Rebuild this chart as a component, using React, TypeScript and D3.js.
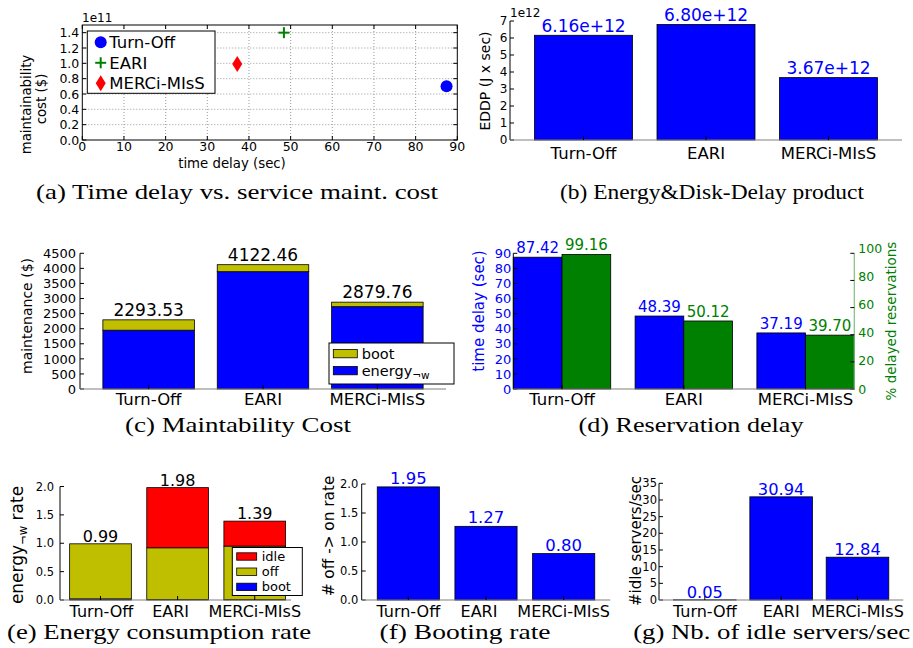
import React from "react";
import * as d3 from "d3";

// ---------------- data ----------------
const methods = ["Turn-Off", "EARI", "MERCi-MIsS"];

// (a) time delay (sec) vs maintainability cost (x 1e11 $)
const scatterDelay = [87.42, 48.39, 37.19];
const scatterCost = [0.7, 1.4, 0.99];
const aXTicks = [0, 10, 20, 30, 40, 50, 60, 70, 80, 90];
const aYTicks = [0, 0.2, 0.4, 0.6, 0.8, 1.0, 1.2, 1.4];

// (b) EDDP (x 1e12 J x sec)
const eddp = [6.16, 6.8, 3.67];
const bYTicks = [0, 1, 2, 3, 4, 5, 6, 7];

// (c) maintenance cost ($)
const maintEnergy = [1950, 3890, 2730];
const maintBoot = [343.53, 232.46, 149.76];
const cYTicks = [0, 500, 1000, 1500, 2000, 2500, 3000, 3500, 4000, 4500];

// (d) reservation delay
const resDelay = [87.42, 48.39, 37.19];
const resPct = [99.16, 50.12, 39.7];
const dYTicksL = [0, 10, 20, 30, 40, 50, 60, 70, 80, 90];
const dYTicksR = [0, 20, 40, 60, 80, 100];

// (e) energy consumption rate
const rateBoot = [0.02, 0.01, 0.01];
const rateOff = [0.97, 0.91, 0.94];
const rateIdle = [0.0, 1.06, 0.44];
const eYTicks = [0, 0.5, 1.0, 1.5, 2.0];

// (f) booting rate
const bootRate = [1.95, 1.27, 0.8];
const fYTicks = [0, 0.5, 1.0, 1.5, 2.0];

// (g) idle servers / sec
const idleServers = [0.05, 30.94, 12.84];
const gYTicks = [0, 5, 10, 15, 20, 25, 30, 35];

// ---------------- style ----------------
const BLUE = "#0000ff";
const GREEN = "#008000";
const RED = "#ff0000";
const OLIVE = "#bfbf00";
const SANS = "'DejaVu Sans', 'Bitstream Vera Sans', sans-serif";
const SERIF = "'Liberation Serif', 'DejaVu Serif', serif";

const fmt1 = d3.format(".1f");
const fmt2 = d3.format(".2f");
const fmtD = d3.format("d");
const positions = methods.map((_, i) => i);

function Caption({ x, y, w, text }: any) {
  return (
    <text x={x} y={y} textAnchor="middle" fontFamily={SERIF} fontSize={21} textLength={w} lengthAdjust="spacingAndGlyphs">
      {text}
    </text>
  );
}

function VLabel({ x, y, fs, color = "#000", children }: any) {
  return (
    <text transform={`translate(${x + 0.35 * fs},${y}) rotate(-90)`} textAnchor="middle" fontSize={fs} fill={color}>
      {children}
    </text>
  );
}

function YAxisLeft({ y, x0, ticks, fmt, fs, gap, color = "#000", tick = 4 }: any) {
  const [b, t] = y.range();
  return (
    <g>
      <line x1={x0} x2={x0} y1={b} y2={t} stroke="#000" strokeWidth={1} />
      {ticks.map((v: number) => (
        <g key={v}>
          <line x1={x0} x2={x0 + tick} y1={y(v)} y2={y(v)} stroke="#000" />
          <text x={x0 - gap} y={y(v)} dy="0.36em" textAnchor="end" fontSize={fs} fill={color}>
            {fmt(v)}
          </text>
        </g>
      ))}
    </g>
  );
}

function XCats({ x, pos, y0, base, fs, dxs }: any) {
  const [x0, x1] = x.range();
  return (
    <g>
      <line x1={x0} x2={x1} y1={y0} y2={y0} stroke="#808080" strokeWidth={1.2} />
      {pos.map((p: number, i: number) => (
        <g key={i}>
          <line x1={x(p)} x2={x(p)} y1={y0} y2={y0 - 4} stroke="#000" />
          <text x={x(p) + (dxs ? dxs[i] : 0)} y={base} textAnchor="middle" fontSize={fs}>
            {methods[i]}
          </text>
        </g>
      ))}
    </g>
  );
}

function Marker({ kind, cx, cy, color }: any) {
  if (kind === 0) return <circle cx={cx} cy={cy} r={6} fill={color} />;
  if (kind === 1)
    return (
      <g stroke={color} strokeWidth={2}>
        <line x1={cx - 5.5} x2={cx + 5.5} y1={cy} y2={cy} />
        <line x1={cx} x2={cx} y1={cy - 5.5} y2={cy + 5.5} />
      </g>
    );
  return <path d={`M${cx},${cy - 8}L${cx + 5},${cy}L${cx},${cy + 8}L${cx - 5},${cy}Z`} fill={color} />;
}

const markerColors = [BLUE, GREEN, RED];

// ---------------- panels ----------------
function PanelA() {
  const x = d3.scaleLinear().domain([0, 90]).range([82.3, 457.3]);
  const y = d3.scaleLinear().domain([0, 1.5]).range([140, 25]);
  const [x0, x1] = x.range();
  const [y0, y1] = y.range();
  return (
    <g>
      {aXTicks.slice(1, -1).map((t) => (
        <line key={"gx" + t} x1={x(t)} x2={x(t)} y1={y0} y2={y1} stroke="#999" strokeDasharray="1,2" />
      ))}
      {aYTicks.slice(1).map((t) => (
        <line key={"gy" + t} x1={x0} x2={x1} y1={y(t)} y2={y(t)} stroke="#999" strokeDasharray="1,2" />
      ))}
      <rect x={x0} y={y1} width={x1 - x0} height={y0 - y1} fill="none" stroke="#000" />
      {aXTicks.map((t) => (
        <g key={"tx" + t}>
          <line x1={x(t)} x2={x(t)} y1={y0} y2={y0 - 4} stroke="#000" />
          <line x1={x(t)} x2={x(t)} y1={y1} y2={y1 + 4} stroke="#000" />
          <text x={x(t)} y={150.7} textAnchor="middle" fontSize={12.5}>
            {t}
          </text>
        </g>
      ))}
      {aYTicks.map((t) => (
        <g key={"ty" + t}>
          <line x1={x0} x2={x0 + 4} y1={y(t)} y2={y(t)} stroke="#000" />
          <line x1={x1} x2={x1 - 4} y1={y(t)} y2={y(t)} stroke="#000" />
          <text x={x0 - 3} y={y(t)} dy="0.36em" textAnchor="end" fontSize={12.5}>
            {fmt1(t)}
          </text>
        </g>
      ))}
      {scatterDelay.map((d, i) => (
        <Marker key={"m" + i} kind={i} cx={x(d)} cy={y(scatterCost[i])} color={markerColors[i]} />
      ))}
      <text x={82} y={21.5} fontSize={12}>
        1e11
      </text>
      {/* legend */}
      <rect x={87.3} y={31} width={127.7} height={62.3} fill="#fff" stroke="#000" />
      {methods.map((m, i) => (
        <g key={"lg" + i}>
          <Marker kind={i} cx={100.7} cy={42.3 + i * 20.5} color={markerColors[i]} />
          <text x={109.3} y={42.3 + i * 20.5 + 6} fontSize={16.5}>
            {m}
          </text>
        </g>
      ))}
      <text transform="translate(31,104.5) rotate(-90)" textAnchor="middle" fontSize={13.3}>
        maintainability
      </text>
      <text transform="translate(46,99) rotate(-90)" textAnchor="middle" fontSize={13.3}>
        cost ($)
      </text>
      <text x={232} y={168} textAnchor="middle" fontSize={13.3}>
        time delay (sec)
      </text>
      <Caption x={237} y={199} w={402} text="(a) Time delay vs. service maint. cost" />
    </g>
  );
}

function PanelB() {
  const x = d3.scaleLinear().domain([-0.6, 2.6]).range([510, 902]);
  const y = d3.scaleLinear().domain([0, 7]).range([140, 21]);
  const w = x(0.8) - x(0);
  return (
    <g>
      {eddp.map((v, i) => (
        <rect key={i} x={x(i - 0.4)} y={y(v)} width={w} height={y(0) - y(v)} fill={BLUE} stroke="#000" strokeWidth={0.8} />
      ))}
      {eddp.map((v, i) => (
        <text key={"v" + i} x={x(i)} y={y(v) - 3.5} textAnchor="middle" fontSize={17} fill={BLUE}>
          {fmt2(v) + "e+12"}
        </text>
      ))}
      <YAxisLeft y={y} x0={510} ticks={bYTicks} fmt={fmtD} fs={12} gap={2.5} />
      <XCats x={x} pos={positions} y0={140} base={158.5} fs={16.5} />
      <text x={510} y={16.7} fontSize={12}>
        1e12
      </text>
      <VLabel x={485} y={81} fs={14}>
        EDDP (J x sec)
      </VLabel>
      <Caption x={712} y={199} w={304} text="(b) Energy&Disk-Delay product" />
    </g>
  );
}

function PanelC() {
  const x = d3.scaleLinear().domain([-0.6, 2.6]).range([80, 446]);
  const y = d3.scaleLinear().domain([0, 4500]).range([389, 253.3]);
  const w = x(0.8) - x(0);
  return (
    <g>
      {maintEnergy.map((v, i) => (
        <g key={i}>
          <rect x={x(i - 0.4)} y={y(v)} width={w} height={y(0) - y(v)} fill={BLUE} stroke="#000" strokeWidth={0.8} />
          <rect
            x={x(i - 0.4)}
            y={y(v + maintBoot[i])}
            width={w}
            height={y(v) - y(v + maintBoot[i])}
            fill={OLIVE}
            stroke="#000"
            strokeWidth={0.8}
          />
          <text x={x(i)} y={y(v + maintBoot[i]) - 4} textAnchor="middle" fontSize={17}>
            {fmt2(v + maintBoot[i])}
          </text>
        </g>
      ))}
      <YAxisLeft y={y} x0={80} ticks={cYTicks} fmt={fmtD} fs={13} gap={4} />
      <XCats x={x} pos={positions} y0={389} base={405} fs={16.5} />
      <VLabel x={26.7} y={316} fs={14}>
        maintenance ($)
      </VLabel>
      {/* legend */}
      <rect x={329} y={343} width={125} height={41} fill="#fff" stroke="#000" />
      <rect x={333.3} y={349.5} width={24} height={8.3} fill={OLIVE} stroke="#000" strokeWidth={0.8} />
      <rect x={333.3} y={366.5} width={24} height={8.3} fill={BLUE} stroke="#000" strokeWidth={0.8} />
      <text x={361.7} y={359} fontSize={14.5}>
        boot
      </text>
      <text x={361.7} y={376} fontSize={14.5}>
        energy
        <tspan fontSize={10.5} dy={2.5}>
          ¬w
        </tspan>
      </text>
      <Caption x={238} y={432} w={226} text="(c) Maintability Cost" />
    </g>
  );
}

function PanelD() {
  const x = d3.scaleLinear().domain([0, 2.8]).range([513.3, 854.3]);
  const yL = d3.scaleLinear().domain([0, 90]).range([389, 253.3]);
  const yR = d3.scaleLinear().domain([0, 100]).range([389, 253.3]);
  const w = x(0.4) - x(0);
  const xr = x.range()[1];
  return (
    <g>
      {resDelay.map((v, i) => (
        <g key={i}>
          <rect x={x(i)} y={yL(v)} width={w} height={yL(0) - yL(v)} fill={BLUE} stroke="#000" strokeWidth={0.8} />
          <rect x={x(i + 0.4)} y={yR(resPct[i])} width={w} height={yR(0) - yR(resPct[i])} fill={GREEN} stroke="#000" strokeWidth={0.8} />
          <text x={x(i + 0.2)} y={yL(v) - 4} textAnchor="middle" fontSize={15} fill={BLUE}>
            {fmt2(v)}
          </text>
          <text x={x(i + 0.6)} y={yR(resPct[i]) - 4} textAnchor="middle" fontSize={15} fill={GREEN}>
            {fmt2(resPct[i])}
          </text>
        </g>
      ))}
      <YAxisLeft y={yL} x0={513.3} ticks={dYTicksL} fmt={fmtD} fs={13} gap={2} color={BLUE} />
      <line x1={xr} x2={xr} y1={389} y2={253.3} stroke="#7fbf7f" strokeWidth={1.2} />
      {dYTicksR.map((t) => (
        <g key={"r" + t}>
          <line x1={xr} x2={xr - 4} y1={yR(t)} y2={yR(t)} stroke="#000" />
          <text x={xr + 4} y={yR(t) - t * 0.045} dy="0.36em" fontSize={12.5} fill={GREEN}>
            {t}
          </text>
        </g>
      ))}
      <XCats x={x} pos={positions.map((p) => p + 0.4)} y0={389} base={405} fs={16.5} />
      <VLabel x={478.3} y={311} fs={15} color={BLUE}>
        time delay (sec)
      </VLabel>
      <VLabel x={891} y={321} fs={13.5} color={GREEN}>
        % delayed reservations
      </VLabel>
      <Caption x={691} y={432} w={225} text="(d) Reservation delay" />
    </g>
  );
}

function PanelE() {
  const x = d3.scaleLinear().domain([-0.525, 2.47]).range([60, 291]);
  const y = d3.scaleLinear().domain([0, 2]).range([600, 486.5]);
  const w = x(0.8) - x(0);
  const layers = [
    { vals: rateBoot, color: BLUE, name: "boot" },
    { vals: rateOff, color: OLIVE, name: "off" },
    { vals: rateIdle, color: RED, name: "idle" },
  ];
  return (
    <g>
      {positions.map((i) => {
        let acc = 0;
        const rects = layers.map((L, k) => {
          const lo = acc;
          acc += L.vals[i];
          return (
            <rect
              key={k}
              x={x(i - 0.4)}
              y={y(acc)}
              width={w}
              height={y(lo) - y(acc)}
              fill={L.color}
              stroke="#000"
              strokeWidth={0.8}
            />
          );
        });
        return (
          <g key={i}>
            {rects}
            <text x={x(i)} y={y(acc) - 2} textAnchor="middle" fontSize={16}>
              {fmt2(acc)}
            </text>
          </g>
        );
      })}
      <YAxisLeft y={y} x0={60} ticks={eYTicks} fmt={fmt1} fs={11.5} gap={6} />
      <XCats x={x} pos={positions} y0={600} base={616.7} fs={16} dxs={[1, -7, 0]} />
      <text transform={`translate(${17 + 0.35 * 17},545) rotate(-90)`} textAnchor="middle" fontSize={17}>
        energy
        <tspan fontSize={11.5} dy={4}>
          ¬w
        </tspan>
        <tspan dy={-4}> rate</tspan>
      </text>
      {/* legend */}
      <rect x={232.3} y={547.5} width={70} height={48} fill="#fff" stroke="#000" />
      {layers
        .slice()
        .reverse()
        .map((L, k) => (
          <g key={"lg" + k}>
            <rect x={236.7} y={552.8 + k * 15.2} width={20} height={7.4} fill={L.color} stroke="#000" strokeWidth={0.8} />
            <text x={261.7} y={560.8 + k * 15.2} fontSize={13}>
              {L.name}
            </text>
          </g>
        ))}
      <Caption x={159} y={639} w={304} text="(e) Energy consumption rate" />
    </g>
  );
}

function PanelF() {
  const x = d3.scaleLinear().domain([-0.6, 2.6]).range([361.7, 610.3]);
  const y = d3.scaleLinear().domain([0, 2]).range([600, 484]);
  const w = x(0.8) - x(0);
  return (
    <g>
      {bootRate.map((v, i) => (
        <g key={i}>
          <rect x={x(i - 0.4)} y={y(v)} width={w} height={y(0) - y(v)} fill={BLUE} stroke="#000" strokeWidth={0.8} />
          <text x={x(i)} y={y(v) - 3} textAnchor="middle" fontSize={16.5} fill={BLUE}>
            {fmt2(v)}
          </text>
        </g>
      ))}
      <YAxisLeft y={y} x0={361.7} ticks={fYTicks} fmt={fmt1} fs={11.5} gap={3.4} />
      <XCats x={x} pos={positions} y0={600} base={616.7} fs={16} dxs={[0, -7, 0]} />
      <VLabel x={328.3} y={536} fs={15.3}>
        # off -&gt; on rate
      </VLabel>
      <Caption x={465} y={639} w={171} text="(f) Booting rate" />
    </g>
  );
}

function PanelG() {
  const x = d3.scaleLinear().domain([-0.6, 2.6]).range([659, 903.3]);
  const y = d3.scaleLinear().domain([0, 35]).range([600, 483.3]);
  const w = x(0.82) - x(0);
  return (
    <g>
      {idleServers.map((v, i) => (
        <g key={i}>
          <rect x={x(i - 0.41)} y={y(v)} width={w} height={y(0) - y(v)} fill={BLUE} stroke="#000" strokeWidth={0.8} />
          <text x={x(i)} y={y(v) - 2} textAnchor="middle" fontSize={16.3} fill={BLUE}>
            {fmt2(v)}
          </text>
        </g>
      ))}
      <YAxisLeft y={y} x0={659} ticks={gYTicks} fmt={fmtD} fs={11.5} gap={2} />
      <XCats x={x} pos={positions} y0={600} base={616.7} fs={16} />
      <VLabel x={635.5} y={541} fs={15}>
        #idle servers/sec
      </VLabel>
      <Caption x={771.7} y={639} w={277} text="(g) Nb. of idle servers/sec" />
    </g>
  );
}

export default function App() {
  return (
    <svg
      width={913}
      height={648}
      viewBox="0 0 913 648"
      fontFamily={SANS}
      style={{ position: "absolute", left: 0, top: 0, background: "#fff" }}
    >
      <rect width={913} height={648} fill="#fff" />
      <PanelA />
      <PanelB />
      <PanelC />
      <PanelD />
      <PanelE />
      <PanelF />
      <PanelG />
    </svg>
  );
}
